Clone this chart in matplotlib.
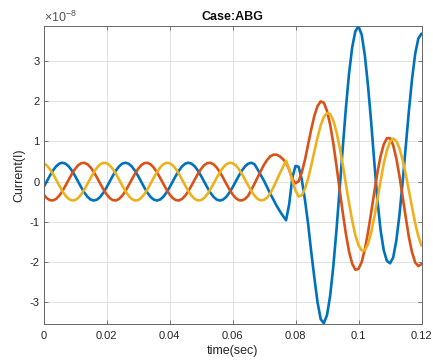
import numpy as np
import matplotlib
matplotlib.use("Agg")
import matplotlib.pyplot as plt
from matplotlib.ticker import FuncFormatter

plt.rcParams['font.family'] = ['Liberation Sans', 'DejaVu Sans']
plt.rcParams['mathtext.fontset'] = 'custom'
plt.rcParams['mathtext.rm'] = 'Liberation Sans'
plt.rcParams['mathtext.it'] = 'Liberation Sans:italic'

# sample times (s), 1 ms step
time_s = np.linspace(0.0, 0.12, 121)
scale = 1e-8

# phase currents in units of 1e-8 A
phase_a = [
    -0.145, 0, 0.145, 0.276, 0.380, 0.447, 0.470, 0.447, 0.380, 0.276,
    0.145, 0, -0.145, -0.276, -0.380, -0.447, -0.470, -0.447, -0.380, -0.276,
    -0.145, 0, 0.145, 0.276, 0.380, 0.447, 0.470, 0.447, 0.380, 0.276,
    0.145, 0, -0.145, -0.276, -0.380, -0.447, -0.470, -0.447, -0.380, -0.276,
    -0.145, 0, 0.145, 0.276, 0.380, 0.447, 0.470, 0.447, 0.380, 0.276,
    0.145, 0, -0.145, -0.276, -0.380, -0.447, -0.470, -0.447, -0.380, -0.276,
    -0.145, 0, 0.145, 0.276, 0.380, 0.447, 0.470, 0.43, 0.30, 0.16,
    0.02, -0.14, -0.30, -0.45, -0.60, -0.73, -0.85, -0.96, -0.56, 0.10,
    0.39, 0.37, 0.05, -0.45, -1.05, -1.75, -2.40, -3.00, -3.42, -3.52,
    -3.32, -2.84, -2.11, -1.21, -0.20, 0.84, 1.83, 2.69, 3.34, 3.74,
    3.86, 3.66, 3.15, 2.40, 1.50, 0.50, -0.45, -1.20, -1.70, -1.97,
    -2.03, -1.89, -1.47, -0.83, -0.02, 0.87, 1.76, 2.55, 3.18, 3.56,
    3.68,
]
phase_b = [
    -0.314, -0.407, -0.460, -0.468, -0.430, -0.349, -0.235, -0.098, 0.049, 0.191,
    0.314, 0.407, 0.460, 0.468, 0.430, 0.349, 0.235, 0.098, -0.049, -0.191,
    -0.314, -0.407, -0.460, -0.468, -0.430, -0.349, -0.235, -0.098, 0.049, 0.191,
    0.314, 0.407, 0.460, 0.468, 0.430, 0.349, 0.235, 0.098, -0.049, -0.191,
    -0.314, -0.407, -0.460, -0.468, -0.430, -0.349, -0.235, -0.098, 0.049, 0.191,
    0.314, 0.407, 0.460, 0.468, 0.430, 0.349, 0.235, 0.098, -0.049, -0.191,
    -0.314, -0.407, -0.460, -0.468, -0.430, -0.349, -0.20, -0.05, 0.11, 0.27,
    0.42, 0.54, 0.63, 0.67, 0.67, 0.63, 0.56, 0.47, 0.30, 0.06,
    -0.04, 0.01, 0.23, 0.54, 0.92, 1.30, 1.64, 1.88, 1.995, 1.96,
    1.76, 1.42, 0.95, 0.40, -0.19, -0.77, -1.30, -1.74, -2.04, -2.19,
    -2.17, -2.00, -1.69, -1.27, -0.78, -0.27, 0.22, 0.63, 0.92, 1.08,
    1.08, 0.91, 0.58, 0.14, -0.37, -0.89, -1.38, -1.76, -2.01, -2.10,
    -2.05,
]
phase_c = [
    0.460, 0.407, 0.314, 0.191, 0.049, -0.098, -0.235, -0.349, -0.430, -0.468,
    -0.460, -0.407, -0.314, -0.191, -0.049, 0.098, 0.235, 0.349, 0.430, 0.468,
    0.460, 0.407, 0.314, 0.191, 0.049, -0.098, -0.235, -0.349, -0.430, -0.468,
    -0.460, -0.407, -0.314, -0.191, -0.049, 0.098, 0.235, 0.349, 0.430, 0.468,
    0.460, 0.407, 0.314, 0.191, 0.049, -0.098, -0.235, -0.349, -0.430, -0.468,
    -0.460, -0.407, -0.314, -0.191, -0.049, 0.098, 0.235, 0.349, 0.430, 0.468,
    0.460, 0.407, 0.314, 0.191, 0.049, -0.098, -0.235, -0.349, -0.430, -0.468,
    -0.45, -0.40, -0.29, -0.14, 0.03, 0.20, 0.36, 0.52, 0.31, 0.03,
    -0.22, -0.37, -0.34, -0.18, 0.07, 0.40, 0.755, 1.10, 1.40, 1.61,
    1.705, 1.68, 1.52, 1.24, 0.86, 0.42, -0.06, -0.53, -0.97, -1.33,
    -1.58, -1.71, -1.71, -1.56, -1.28, -0.89, -0.45, 0.01, 0.44, 0.77,
    0.99, 1.07, 1.01, 0.83, 0.54, 0.18, -0.22, -0.64, -1.03, -1.36,
    -1.59,
]

x_ticks = [0, 0.02, 0.04, 0.06, 0.08, 0.1, 0.12]
y_ticks = [-3, -2, -1, 0, 1, 2, 3]

colors = ['#0072BD', '#D95319', '#EDB120']
txt = '#262626'

fig = plt.figure(figsize=(4.33, 3.61), dpi=100)
ax = fig.add_axes([43.5 / 433, 37 / 361, 378 / 433, 298 / 361])

for series, c in zip([phase_a, phase_b, phase_c], colors):
    ax.plot(time_s, np.array(series) * scale, color=c, lw=1.9,
            solid_joinstyle='round', solid_capstyle='round')

ax.set_xlim(0, 0.12)
ax.set_ylim(-3.54e-8, 3.87e-8)
ax.set_xticks(x_ticks)
ax.set_yticks([v * scale for v in y_ticks])
ax.xaxis.set_major_formatter(FuncFormatter(lambda v, _: f'{v:g}'))
ax.yaxis.set_major_formatter(FuncFormatter(lambda v, _: f'{round(v / scale):g}'))

ax.grid(True, color='#dcdcdc', lw=0.6)
ax.set_axisbelow(True)
for s in ax.spines.values():
    s.set_color('#666666')
    s.set_linewidth(0.7)
ax.tick_params(direction='in', length=3, width=0.6, color='#666666',
               top=True, right=True, labelsize=8, labelcolor=txt)
ax.tick_params(axis='x', pad=5)
ax.tick_params(axis='y', pad=3)

ax.set_title('Case:ABG', fontsize=9, fontweight='bold', color='#111111', pad=4)
ax.set_xlabel('time(sec)', fontsize=9, color=txt, labelpad=3)
ax.set_ylabel('Current(I)', fontsize=9, color=txt, labelpad=3)
ax.text(0.0, 1.004, r'$\times10^{-8}$', transform=ax.transAxes, fontsize=9,
        color='#555555', ha='left', va='bottom')

fig.savefig('out.png', dpi=100)
